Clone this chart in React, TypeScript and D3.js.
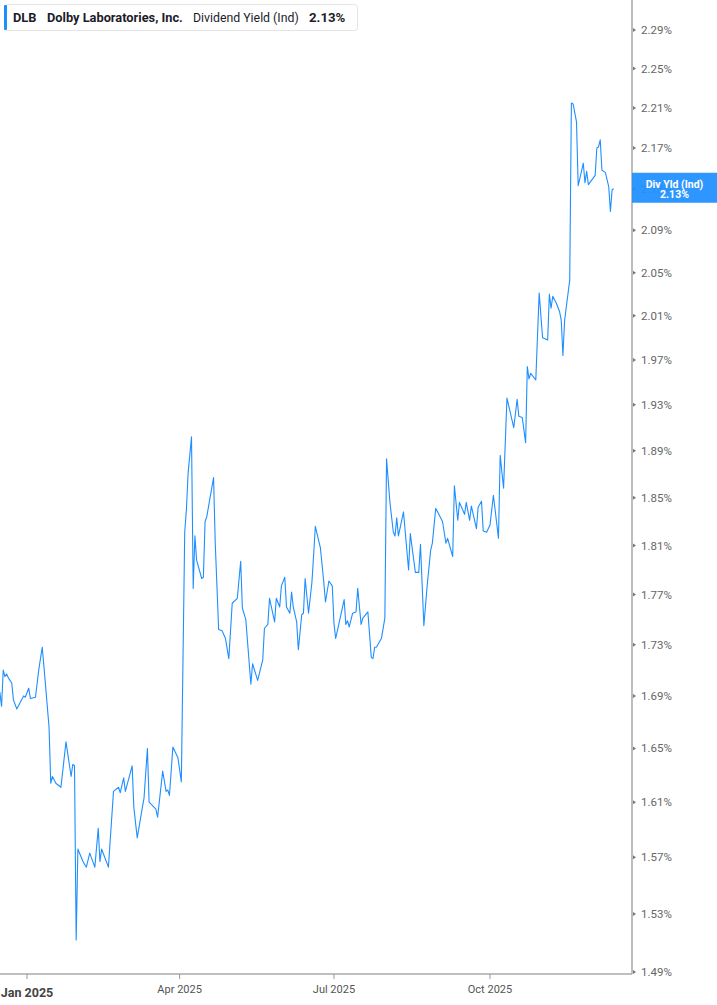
import React, { useEffect } from 'react';
import * as d3 from 'd3';

// daily dividend yield (%)
const dates = [
  '2024-12-16', '2024-12-17', '2024-12-18', '2024-12-19', '2024-12-20', '2024-12-21', '2024-12-23', '2024-12-24',
  '2024-12-26', '2024-12-28', '2024-12-30', '2024-12-31', '2025-01-02', '2025-01-03', '2025-01-06', '2025-01-08',
  '2025-01-10', '2025-01-12', '2025-01-14', '2025-01-15', '2025-01-16', '2025-01-18', '2025-01-21', '2025-01-24',
  '2025-01-27', '2025-01-28', '2025-01-29', '2025-01-30', '2025-01-31', '2025-02-01', '2025-02-03', '2025-02-05',
  '2025-02-07', '2025-02-10', '2025-02-12', '2025-02-13', '2025-02-14', '2025-02-18', '2025-02-21', '2025-02-24',
  '2025-02-25', '2025-02-27', '2025-02-28', '2025-03-04', '2025-03-05', '2025-03-07', '2025-03-10', '2025-03-11',
  '2025-03-13', '2025-03-14', '2025-03-18', '2025-03-19', '2025-03-22', '2025-03-24', '2025-03-25', '2025-03-26',
  '2025-03-28', '2025-03-31', '2025-04-02', '2025-04-04', '2025-04-05', '2025-04-06', '2025-04-08', '2025-04-09',
  '2025-04-10', '2025-04-11', '2025-04-14', '2025-04-15', '2025-04-16', '2025-04-17', '2025-04-21', '2025-04-22',
  '2025-04-24', '2025-04-26', '2025-04-28', '2025-04-30', '2025-05-02', '2025-05-05', '2025-05-07', '2025-05-08',
  '2025-05-10', '2025-05-13', '2025-05-14', '2025-05-17', '2025-05-20', '2025-05-21', '2025-05-23', '2025-05-24',
  '2025-05-27', '2025-05-28', '2025-05-30', '2025-05-31', '2025-06-02', '2025-06-03', '2025-06-05', '2025-06-06',
  '2025-06-07', '2025-06-09', '2025-06-10', '2025-06-12', '2025-06-13', '2025-06-14', '2025-06-16', '2025-06-18',
  '2025-06-19', '2025-06-20', '2025-06-23', '2025-06-25', '2025-06-26', '2025-06-28', '2025-06-30', '2025-07-01',
  '2025-07-02', '2025-07-04', '2025-07-07', '2025-07-08', '2025-07-09', '2025-07-10', '2025-07-12', '2025-07-14',
  '2025-07-15', '2025-07-17', '2025-07-18', '2025-07-21', '2025-07-23', '2025-07-24', '2025-07-25', '2025-07-26',
  '2025-07-29', '2025-07-31', '2025-08-01', '2025-08-03', '2025-08-05', '2025-08-06', '2025-08-07', '2025-08-08',
  '2025-08-11', '2025-08-14', '2025-08-15', '2025-08-18', '2025-08-20', '2025-08-21', '2025-08-23', '2025-08-25',
  '2025-08-27', '2025-08-28', '2025-08-30', '2025-09-03', '2025-09-05', '2025-09-06', '2025-09-09', '2025-09-10',
  '2025-09-12', '2025-09-13', '2025-09-16', '2025-09-17', '2025-09-19', '2025-09-20', '2025-09-23', '2025-09-24',
  '2025-09-26', '2025-09-27', '2025-09-29', '2025-10-01', '2025-10-03', '2025-10-06', '2025-10-07', '2025-10-09',
  '2025-10-11', '2025-10-13', '2025-10-15', '2025-10-17', '2025-10-18', '2025-10-20', '2025-10-22', '2025-10-23',
  '2025-10-24', '2025-10-25', '2025-10-28', '2025-10-30', '2025-11-01', '2025-11-04', '2025-11-05', '2025-11-06',
  '2025-11-07', '2025-11-09', '2025-11-11', '2025-11-12', '2025-11-13', '2025-11-14', '2025-11-17', '2025-11-18',
  '2025-11-19', '2025-11-21', '2025-11-22', '2025-11-23', '2025-11-25', '2025-11-26', '2025-11-27', '2025-11-28',
  '2025-12-02', '2025-12-03', '2025-12-04', '2025-12-05', '2025-12-06', '2025-12-08', '2025-12-10', '2025-12-11',
  '2025-12-12', '2025-12-13',
];

const yields = [
  1.693, 1.682, 1.710, 1.705, 1.707, 1.704, 1.700, 1.687,
  1.680, 1.685, 1.690, 1.689, 1.696, 1.688, 1.689, 1.711,
  1.728, 1.697, 1.666, 1.624, 1.629, 1.624, 1.621, 1.655,
  1.629, 1.638, 1.637, 1.512, 1.576, 1.573, 1.567, 1.563,
  1.573, 1.563, 1.591, 1.567, 1.576, 1.563, 1.618, 1.621,
  1.617, 1.628, 1.618, 1.637, 1.606, 1.584, 1.606, 1.613,
  1.650, 1.610, 1.605, 1.599, 1.633, 1.618, 1.619, 1.615,
  1.651, 1.643, 1.625, 1.821, 1.840, 1.871, 1.902, 1.775,
  1.818, 1.798, 1.783, 1.784, 1.830, 1.834, 1.867, 1.812,
  1.742, 1.741, 1.735, 1.719, 1.763, 1.767, 1.797, 1.759,
  1.750, 1.699, 1.715, 1.702, 1.718, 1.743, 1.746, 1.767,
  1.748, 1.767, 1.760, 1.777, 1.784, 1.760, 1.755, 1.772,
  1.760, 1.748, 1.726, 1.754, 1.755, 1.783, 1.755, 1.780,
  1.802, 1.826, 1.808, 1.780, 1.764, 1.781, 1.777, 1.747,
  1.735, 1.747, 1.766, 1.746, 1.749, 1.744, 1.755, 1.756,
  1.775, 1.746, 1.751, 1.756, 1.720, 1.719, 1.728, 1.728,
  1.735, 1.751, 1.883, 1.846, 1.821, 1.818, 1.833, 1.818,
  1.838, 1.790, 1.820, 1.788, 1.788, 1.811, 1.745, 1.778,
  1.806, 1.812, 1.841, 1.830, 1.812, 1.816, 1.801, 1.860,
  1.831, 1.846, 1.836, 1.846, 1.831, 1.843, 1.824, 1.842,
  1.847, 1.822, 1.821, 1.827, 1.852, 1.816, 1.886, 1.858,
  1.936, 1.923, 1.910, 1.935, 1.920, 1.919, 1.897, 1.964,
  1.953, 1.958, 1.952, 2.031, 1.990, 1.988, 2.030, 2.017,
  2.028, 2.022, 2.014, 2.006, 1.974, 2.006, 2.043, 2.215,
  2.214, 2.196, 2.133, 2.140, 2.155, 2.136, 2.147, 2.134,
  2.143, 2.170, 2.171, 2.178, 2.148, 2.146, 2.132, 2.108,
  2.129, 2.130,
];

const yTicks = [1.49, 1.53, 1.57, 1.61, 1.65, 1.69, 1.73, 1.77, 1.81, 1.85, 1.89, 1.93, 1.97, 2.01, 2.05, 2.09, 2.13, 2.17, 2.21, 2.25, 2.29];
const xTicks = ['2025-01-01', '2025-04-01', '2025-07-01', '2025-10-01'];
const xTickLabels = ['Jan 2025', 'Apr 2025', 'Jul 2025', 'Oct 2025'];
const lastLabel = '2.13%';

const W = 717;
const H = 1005;
const axisX = 632;
const axisY = 974;
const BLUE = '#1e8fff';

const parse = d3.utcParse('%Y-%m-%d');

const App = () => {
  useEffect(() => {
    document.body.style.margin = '0';
  }, []);

  const data = dates.map((d, i) => ({ date: parse(d) as Date, value: yields[i] }));

  // anchored on the Jan / Oct gridlines, extrapolated to the edges
  const x = d3
    .scaleUtc()
    .domain([parse(xTicks[0]) as Date, parse(xTicks[3]) as Date])
    .range([27, 490]);
  const y = d3.scaleLog().domain([1.49, 2.29]).range([972, 30]);

  const line = d3
    .line<{ date: Date; value: number }>()
    .x((d) => x(d.date))
    .y((d) => y(d.value));

  const last = data[data.length - 1];
  const font = 'Roboto, "Noto Sans", sans-serif';

  return (
    <svg width={W} height={H} style={{ display: 'block', fontFamily: font }}>
      <rect width={W} height={H} fill='#fff' />

      {/* legend */}
      <rect x={4.5} y={4.5} width={353} height={26} rx={3} fill='#fff' stroke='#e4e4e4' />
      <rect x={4} y={5} width={3} height={25} rx={1} fill={BLUE} />
      <g fill='#1c1c2a' dominantBaseline='central'>
        <text x={13} y={17.5} fontSize={12.8} fontWeight={700}>DLB</text>
        <text x={47} y={17.5} fontSize={12.8} fontWeight={700}>Dolby Laboratories, Inc.</text>
        <text x={193} y={17.5} fontSize={12.3}>Dividend Yield (Ind)</text>
        <text x={309} y={17.5} fontSize={13.2} fontWeight={700}>{lastLabel}</text>
      </g>

      {/* series */}
      <path d={line(data) || ''} fill='none' stroke={BLUE} strokeWidth={1.1} strokeLinejoin='round' />

      {/* right axis */}
      <line x1={axisX} x2={axisX} y1={0} y2={axisY} stroke='#9a9a9a' strokeWidth={1.3} />
      {yTicks.map((t) => (
        <g key={t} transform={`translate(${axisX},${y(t)})`}>
          <path d='M1,-2L4,0L1,2Z' fill='#777' />
          <text x={9} dy='0.35em' fontSize={11.5} fill='#666'>
            {t.toFixed(2)}%
          </text>
        </g>
      ))}

      {/* bottom axis */}
      <line x1={0} x2={axisX} y1={axisY} y2={axisY} stroke='#aaa' strokeWidth={1.3} />
      {xTicks.map((t, i) => {
        const px = x(parse(t) as Date);
        const first = i === 0;
        return (
          <g key={t}>
            <line x1={px} x2={px} y1={axisY} y2={axisY + 5} stroke='#999' />
            <text
              x={px}
              y={first ? 997 : 993}
              textAnchor='middle'
              fontSize={first ? 12.5 : 11}
              fontWeight={first ? 700 : 400}
              fill={first ? '#444' : '#555'}
            >
              {xTickLabels[i]}
            </text>
          </g>
        );
      })}

      {/* last value tag */}
      <g transform={`translate(${axisX},${y(last.value)})`}>
        <rect x={0} y={-16} width={W - axisX} height={30} fill={BLUE} fillOpacity={0.93} />
        <text x={(W - axisX) / 2} y={-4.5} textAnchor='middle' dominantBaseline='central' fontSize={10.5} fontWeight={700} fill='#fff'>
          Div Yld (Ind)
        </text>
        <text x={(W - axisX) / 2} y={6} textAnchor='middle' dominantBaseline='central' fontSize={10.5} fontWeight={700} fill='#fff'>
          {lastLabel}
        </text>
      </g>
    </svg>
  );
};

export default App;
